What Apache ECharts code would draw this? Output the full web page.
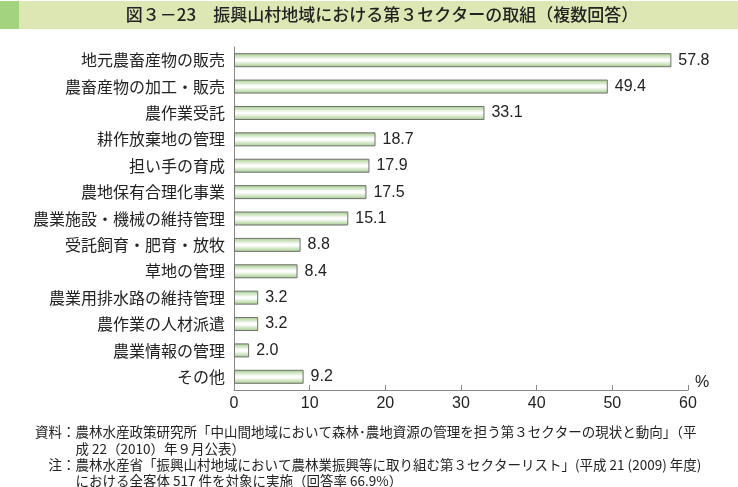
<!DOCTYPE html>
<html><head><meta charset="utf-8">
<script src="https://cdn.jsdelivr.net/npm/echarts@6/dist/echarts.min.js"></script>
<style>html,body{margin:0;padding:0;background:#fff}#c{width:738px;height:487px}</style>
</head><body><div id="c"></div>
<script>
const categories = ['地元農畜産物の販売','農畜産物の加工・販売','農作業受託','耕作放棄地の管理','担い手の育成','農地保有合理化事業','農業施設・機械の維持管理','受託飼育・肥育・放牧','草地の管理','農業用排水路の維持管理','農作業の人材派遣','農業情報の管理','その他'];
const values = [57.8,49.4,33.1,18.7,17.9,17.5,15.1,8.8,8.4,3.2,3.2,2.0,9.2];
const xTicks = [0,10,20,30,40,50,60];
const title = '図３－23　振興山村地域における第３セクターの取組（複数回答）';
const notes = [
  '資料：農林水産政策研究所「中山間地域において森林･農地資源の管理を担う第３セクターの現状と動向」（平',
  '　　　成 22（2010）年９月公表）',
  '　注：農林水産省「振興山村地域において農林業振興等に取り組む第３セクターリスト」(平成 21 (2009) 年度)',
  '　　　における全客体 517 件を対象に実施（回答率 66.9%）'
];
const font = '"Noto Sans CJK JP","Noto Sans",sans-serif';
const numFont = '"Liberation Sans",Arial,sans-serif';
const chart = echarts.init(document.getElementById('c'), null, {renderer:'canvas'});
chart.setOption({
  animation:false,
  backgroundColor:'#fff',
  textStyle:{fontFamily:font},
  grid:{left:234,right:50,top:47,bottom:97,containLabel:false},
  xAxis:{type:'value',min:xTicks[0],max:xTicks[xTicks.length-1],interval:10,
    axisLine:{show:true,lineStyle:{color:'#888',width:1}},
    axisTick:{show:true,inside:true,length:5,lineStyle:{color:'#888'}},
    splitLine:{show:false},
    axisLabel:{color:'#222',fontSize:16,fontFamily:numFont,margin:6},
    name:'%',nameLocation:'end',nameGap:7,nameTextStyle:{color:'#222',fontSize:16,fontFamily:numFont,verticalAlign:'bottom',padding:[0,0,-1,0]}
  },
  yAxis:{type:'category',data:categories,inverse:true,
    axisLine:{show:true,lineStyle:{color:'#888'}},
    axisTick:{show:false},
    axisLabel:{color:'#222',fontSize:16,margin:9,fontFamily:font}
  },
  series:[{type:'bar',data:values,barWidth:14,
    itemStyle:{borderColor:'#707070',borderWidth:1,
      color:new echarts.graphic.LinearGradient(0,0,0,1,[
        {offset:0,color:'#9fcc86'},{offset:0.45,color:'#ffffff'},{offset:0.55,color:'#ffffff'},{offset:1,color:'#9fcc86'}])},
    label:{show:true,position:'right',distance:7,color:'#222',fontSize:16,
      fontFamily:numFont,formatter:p=>p.value.toFixed(1)}
  }],
  graphic:[
    {type:'rect',shape:{x:0,y:1,width:738,height:28},style:{fill:'#dde7b4'}},
    {type:'rect',shape:{x:0,y:1,width:19,height:28},style:{fill:'#a3d37e'}},
    {type:'text',x:382,y:15,style:{text:title,font:'500 17px '+font,fill:'#222',align:'center',verticalAlign:'middle'}},
    {type:'text',left:35,top:424,style:{text:notes.join('\n'),font:'13.5px '+font,fill:'#222',lineHeight:16.3}}
  ]
});
</script></body></html>
